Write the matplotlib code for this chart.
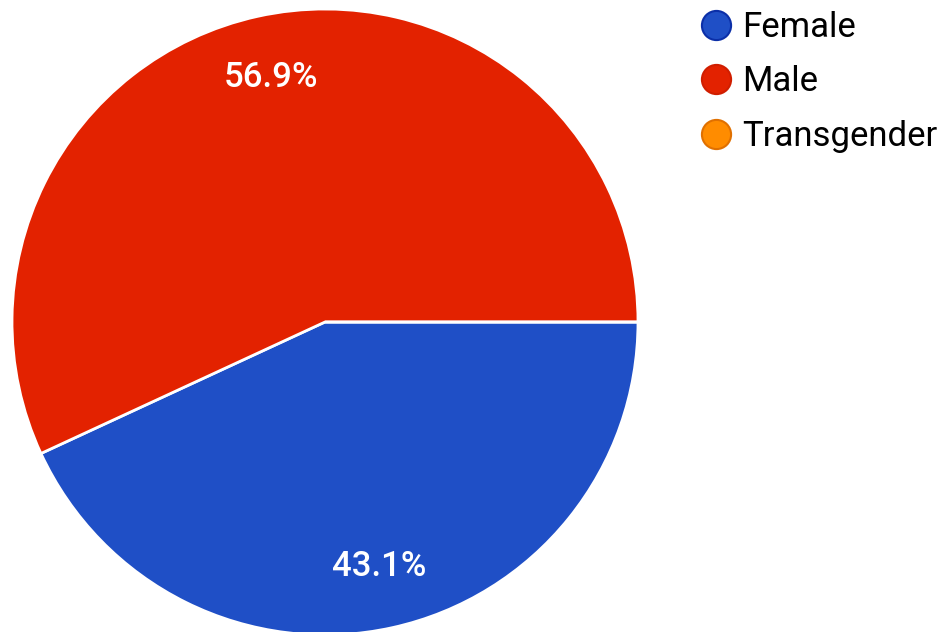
import matplotlib.pyplot as plt
from matplotlib.lines import Line2D

labels = ['Female', 'Male', 'Transgender']
shares = [43.1, 56.9, 0.0]
colors = ['#1f4fc6', '#e32200', '#ff8c00']
edge_colors = ['#0b2fa8', '#d01e00', '#e07000']

plt.rcParams['font.family'] = ['Roboto', 'DejaVu Sans']

fig = plt.figure(figsize=(9.52, 6.32), dpi=100)
# pie centre ~ (325, 322) px, radius ~ 313 px
cx, cy, r = 325, 322, 313
ax = fig.add_axes([(cx - r) / 952, (632 - cy - r) / 632, 2 * r / 952, 2 * r / 632])


def fmt(p):
    return f'{p:.1f}%' if p > 0.5 else ''


wedges, texts, autotexts = ax.pie(
    shares, colors=colors, startangle=0, counterclock=False,
    autopct=fmt, pctdistance=0.8, radius=1,
    wedgeprops=dict(edgecolor='white', linewidth=2),
    textprops=dict(color='white', fontsize=25, fontweight='medium'))
ax.set_xlim(-1, 1)
ax.set_ylim(-1, 1)
ax.set_aspect('equal')
ax.axis('off')

handles = [Line2D([], [], marker='o', linestyle='none', markersize=21,
                  markerfacecolor=c, markeredgecolor=e, markeredgewidth=1.5)
           for c, e in zip(colors, edge_colors)]
fig.legend(handles, labels, loc='upper left', bbox_to_anchor=(681 / 952, 1.005),
           frameon=False, fontsize=25, handletextpad=0.15, labelspacing=0.62,
           handlelength=1.2, borderaxespad=0.0)

fig.savefig('out.png', dpi=100, facecolor='white')
